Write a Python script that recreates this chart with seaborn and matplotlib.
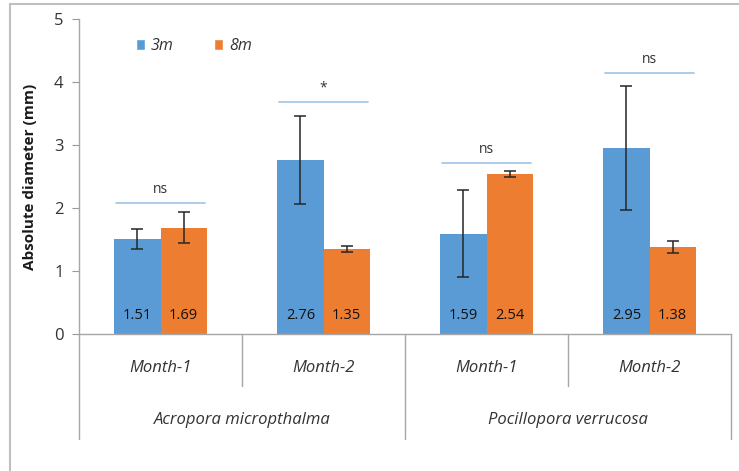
import numpy as np
import pandas as pd
import matplotlib
matplotlib.use("Agg")
import matplotlib.pyplot as plt
from matplotlib.lines import Line2D
from matplotlib.patches import Patch
import seaborn as sns

# data
species = ["Acropora micropthalma", "Pocillopora verrucosa"]
months = ["Month-1", "Month-2"]
depths = ["3m", "8m"]
mean_3m = [1.51, 2.76, 1.59, 2.95]
mean_8m = [1.69, 1.35, 2.54, 1.38]
err_3m = [0.16, 0.70, 0.69, 0.98]
err_8m = [0.25, 0.05, 0.04, 0.10]
sig_labels = ["ns", "*", "ns", "ns"]
sig_heights = [2.08, 3.68, 2.71, 4.14]

colors = {"3m": "#5B9BD5", "8m": "#ED7D31"}

slots = [f"{s}|{m}" for s in species for m in months]
df = pd.DataFrame(
    {
        "slot": slots * 2,
        "depth": ["3m"] * 4 + ["8m"] * 4,
        "value": mean_3m + mean_8m,
        "err": err_3m + err_8m,
    }
)

sns.set_style("white")
plt.rcParams["font.family"] = ["Open Sans", "DejaVu Sans"]

fig = plt.figure(figsize=(7.39, 4.71), dpi=100)
ax = fig.add_axes([79 / 739, 1 - 334 / 471, (731 - 79) / 739, (334 - 19) / 471])

sns.barplot(
    data=df, x="slot", y="value", hue="depth", order=slots, hue_order=depths,
    palette=colors, width=0.565, gap=0, errorbar=None, legend=False,
    saturation=1, linewidth=0, ax=ax,
)

# error bars + value labels at bar centres
for cont, d in zip(ax.containers, depths):
    sub = df[df["depth"] == d].set_index("slot").loc[slots]
    xs = [p.get_x() + p.get_width() / 2 for p in cont.patches]
    ax.errorbar(xs, sub["value"], yerr=sub["err"], fmt="none", ecolor="#262626",
                elinewidth=1.1, capsize=4, capthick=1.1, zorder=5)
    for x, v in zip(xs, sub["value"]):
        ax.text(x, 0.3, f"{v:.2f}", ha="center", va="center", fontsize=10.5,
                color="#111111")

# significance lines
for i, (lab, h) in enumerate(zip(sig_labels, sig_heights)):
    ax.plot([i - 0.27, i + 0.27], [h, h], color="#9DC3E6", lw=1.2)
    ax.text(i, h + 0.1, lab, ha="center", va="bottom", fontsize=10, color="#333333")

ax.set_xlim(-0.5, 3.5)
ax.set_ylim(0, 5)
ax.set_yticks(range(6))
ax.tick_params(axis="y", labelsize=12, length=5, color="#999999", direction="out",
               left=True, pad=6, labelcolor="#333333")
ax.set_xticks([])
ax.set_xlabel("")
ax.set_ylabel("Absolute diameter (mm)", fontsize=11, fontweight="bold",
              labelpad=12, color="#1a1a1a")
for side in ["top", "right"]:
    ax.spines[side].set_visible(False)
for side in ["left", "bottom"]:
    ax.spines[side].set_color("#a6a6a6")
    ax.spines[side].set_linewidth(1)

# hierarchical category axis
tr = ax.get_xaxis_transform()
px = 1 / 315  # axes fraction per pixel vertically
for xb in [-0.5, 1.5, 3.5]:
    ax.add_line(Line2D([xb, xb], [0, -105 * px], transform=tr, color="#a6a6a6",
                       lw=1, clip_on=False))
for xb in [0.5, 2.5]:
    ax.add_line(Line2D([xb, xb], [0, -52 * px], transform=tr, color="#a6a6a6",
                       lw=1, clip_on=False))
for i, s in enumerate(slots):
    ax.text(i, -34 * px, s.split("|")[1], transform=tr, ha="center", va="center",
            fontsize=12, style="italic", color="#333333")
for j, sp in enumerate(species):
    ax.text(2 * j + 0.5, -86 * px, sp, transform=tr, ha="center", va="center",
            fontsize=12, style="italic", color="#333333")

# legend
handles = [Patch(facecolor=colors[d], label=d) for d in depths]
leg = ax.legend(handles=handles, loc="upper left", bbox_to_anchor=(0.065, 0.985),
                ncol=2, frameon=False, handlelength=0.6, handleheight=0.6,
                handletextpad=0.35, columnspacing=2.5, prop={"style": "italic", "size": 11.5})
for t in leg.get_texts():
    t.set_color("#333333")

# outer frame of the original figure
fig.add_artist(Line2D([10 / 739, 10 / 739], [0, 1 - 4 / 471], color="#bfbfbf", lw=1.5))
fig.add_artist(Line2D([10 / 739, 1], [1 - 4 / 471, 1 - 4 / 471], color="#bfbfbf", lw=1.5))

fig.savefig("out.png", dpi=100)
